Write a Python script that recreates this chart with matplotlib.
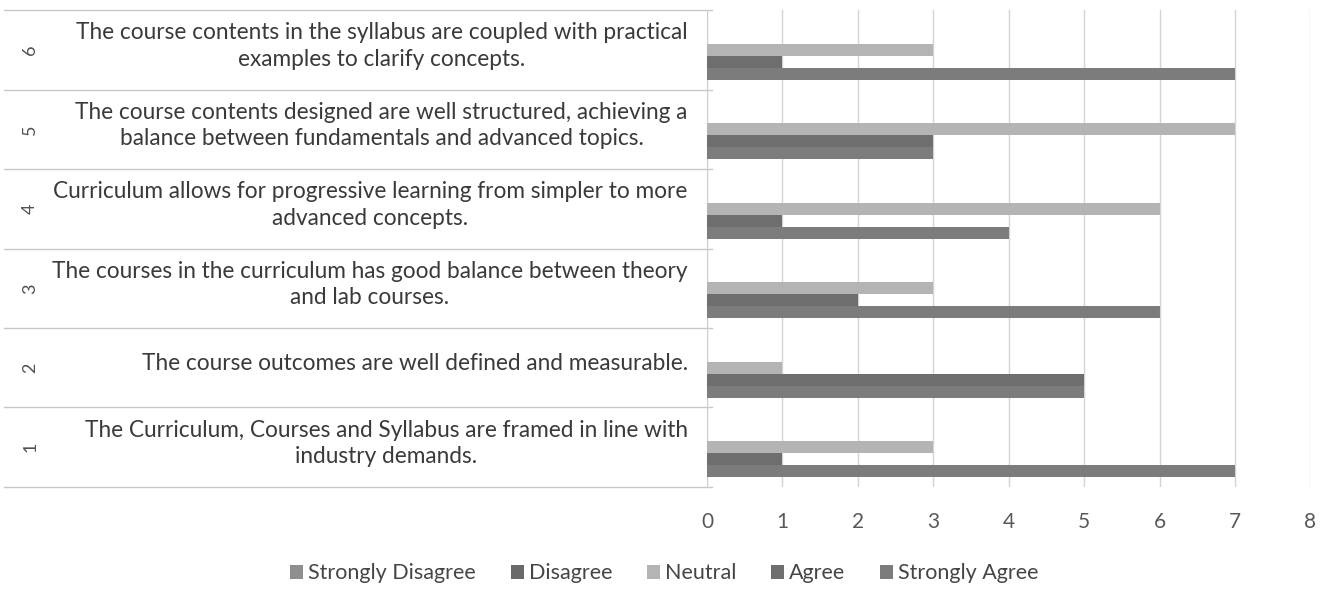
import matplotlib.pyplot as plt
from matplotlib.patches import Patch
from matplotlib.transforms import blended_transform_factory
import numpy as np

plt.rcParams['font.family'] = ['Lato', 'DejaVu Sans']

# question numbers (bottom to top) and their statements
numbers = ['1', '2', '3', '4', '5', '6']
questions = [
    "The Curriculum, Courses and Syllabus are framed in line with\nindustry demands.",
    "The course outcomes are well defined and measurable.",
    "The courses in the curriculum has good balance between theory\nand lab courses.",
    "Curriculum allows for progressive learning from simpler to more\nadvanced concepts.",
    "The course contents designed are well structured, achieving a\nbalance between fundamentals and advanced topics.",
    "The course contents in the syllabus are coupled with practical\nexamples to clarify concepts.",
]

series_names = ['Strongly Disagree', 'Disagree', 'Neutral', 'Agree', 'Strongly Agree']
strongly_disagree = [0, 0, 0, 0, 0, 0]
disagree = [0, 0, 0, 0, 0, 0]
neutral = [3, 1, 3, 6, 7, 3]
agree = [1, 5, 2, 1, 3, 1]
strongly_agree = [7, 5, 6, 4, 3, 7]
x_ticks = [0, 1, 2, 3, 4, 5, 6, 7, 8]

series_values = [strongly_disagree, disagree, neutral, agree, strongly_agree]
colors = ['#8e8e8e', '#6a6a6a', '#b4b4b4', '#6e6e6e', '#7c7c7c']

fig = plt.figure(figsize=(13.29, 5.91), dpi=100)
ax = fig.add_axes([0.532, 0.176, 0.454, 0.807])

pos = np.arange(1, len(numbers) + 1)
bar_h = 0.15
offsets = [0.3, 0.15, 0.0, -0.15, -0.3]
for vals, off, col in zip(series_values, offsets, colors):
    ax.barh(pos + off, vals, height=bar_h, color=col, zorder=3)

ax.set_xlim(0, 8)
ax.set_ylim(0.5, 6.5)
ax.set_xticks(x_ticks)
ax.set_xticklabels([str(t) for t in x_ticks], fontsize=15, color='#595959')
ax.tick_params(axis='x', length=0, pad=18)
ax.set_yticks([])
ax.grid(axis='x', color='#d4d4d4', linewidth=1, zorder=0)
for s in ['top', 'right', 'bottom']:
    ax.spines[s].set_visible(False)
ax.spines['left'].set_color('#cfcfcf')

# category labels drawn as a table left of the axis
tr = blended_transform_factory(ax.transAxes, ax.transData)
for p, num, q in zip(pos, numbers, questions):
    ax.text(-0.032, p + 0.05, q, transform=tr, ha='right', va='center',
            multialignment='center', fontsize=16.3, color='#3a3a3a', linespacing=1.32)
    ax.text(-1.122, p, num, transform=tr, ha='center', va='center',
            rotation=90, fontsize=13, color='#505050')
for b in np.arange(0.5, 7.0, 1.0):
    ax.plot([-1.165, 0.008], [b, b], transform=tr, color='#c8c8c8',
            linewidth=1, clip_on=False)

handles = [Patch(facecolor=c, edgecolor='none') for c in colors]
fig.legend(handles, series_names, loc='center', bbox_to_anchor=(0.5, 0.03),
           ncol=5, frameon=False, fontsize=15.5, handlelength=0.6, handleheight=0.6,
           handletextpad=0.25, columnspacing=1.6, labelcolor='#454545')

fig.savefig('out.png', dpi=100, facecolor='white')
